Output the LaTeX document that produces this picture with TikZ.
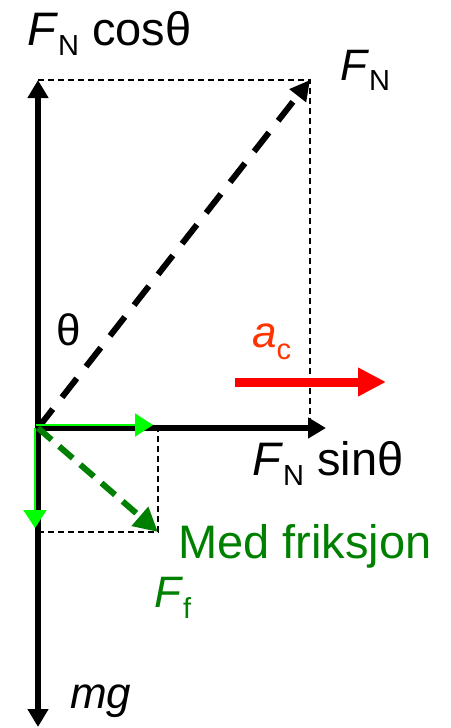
\documentclass[tikz,border=0pt]{standalone}
\usepackage{fontspec}
\setmainfont{Liberation Sans}
\usetikzlibrary{arrows.meta}
\definecolor{fgreen}{RGB}{0,128,0}
\definecolor{lgreen}{RGB}{0,255,0}
\definecolor{acol}{RGB}{255,51,0}
\definecolor{rcol}{RGB}{255,0,0}
\newcommand{\lowsub}[2][10pt]{\raisebox{-#1}{\fontsize{29}{31}\selectfont #2}}
\begin{document}
\begin{tikzpicture}[x=1pt,y=-1pt,
  lbl/.style={anchor=base west, inner sep=0pt, font=\fontsize{44}{50}\selectfont},
  biglbl/.style={lbl, font=\fontsize{47}{52}\selectfont},
  thindash/.style={line width=1.5pt, dash pattern=on 6pt off 4pt},
  bigtip/.style={-{Triangle[length=18pt,width=20pt]}},
  axisline/.style={line width=6pt},
  fnvec/.style={line width=6pt, dash pattern=on 24pt off 15pt, -{Triangle[length=20pt,width=20pt]}},
  ffvec/.style={fgreen, line width=6pt, dash pattern=on 18pt off 10pt, -{Triangle[length=24pt,width=24pt]}},
  thingreen/.style={lgreen, line width=2pt, -{Triangle[length=18pt,width=23pt]}},
  redvec/.style={rcol, line width=9pt, -{Triangle[length=28pt,width=27pt]}}
]
\useasboundingbox (0,0) rectangle (450,728);
% points
\coordinate (O) at (38,428);
\coordinate (top) at (38,80);
\coordinate (bot) at (38,727);
\coordinate (FN) at (310,80);
\coordinate (FNx) at (310,428);
\coordinate (sinend) at (326,428);
\coordinate (Ff) at (158,532);
\coordinate (Ffx) at (158,428);
\coordinate (Ffy) at (38,532);
\coordinate (gh0) at (36,425);
\coordinate (gh1) at (153,425);
\coordinate (gv0) at (35,428);
\coordinate (gv1) at (35,528);
\coordinate (ac0) at (235,382);
\coordinate (ac1) at (386,382);
% thin dashed construction lines
\draw[thindash] (top) -- (FN) -- (FNx);
\draw[thindash] (Ffy) -- (Ff) -- (Ffx);
% main black vectors
\draw[axisline, {Triangle[length=18pt,width=20pt]}-{Triangle[length=18pt,width=20pt]}] (bot) -- (top);
\draw[axisline, bigtip] (O) -- (sinend);
\draw[fnvec] (O) -- (FN);
% friction
\draw[ffvec] (O) -- (Ff);
\draw[thingreen] (gh0) -- (gh1);
\draw[thingreen] (gv0) -- (gv1);
% acceleration
\draw[redvec] (ac0) -- (ac1);
% labels
\node[biglbl] (lcos) at (27,45) {\textit{F}\lowsub{N} cosθ};
\node[lbl] (lfn) at (340,80) {\textit{F}\lowsub{N}};
\node[lbl] (lth) at (56,345) {θ};
\node[lbl, text=acol] (lac) at (252,347) {\textit{a}\lowsub[12pt]{c}};
\node[biglbl] (lsin) at (252,475) {\textit{F}\lowsub{N} sinθ};
\node[lbl, text=fgreen, font=\fontsize{47}{52}\selectfont] (lmed) at (178,558) {Med friksjon};
\node[lbl, text=fgreen] (lff) at (154,607) {\textit{F}\lowsub[11pt]{f}};
\node[lbl] (lmg) at (70,708) {\textit{mg}};
\end{tikzpicture}
\end{document}
